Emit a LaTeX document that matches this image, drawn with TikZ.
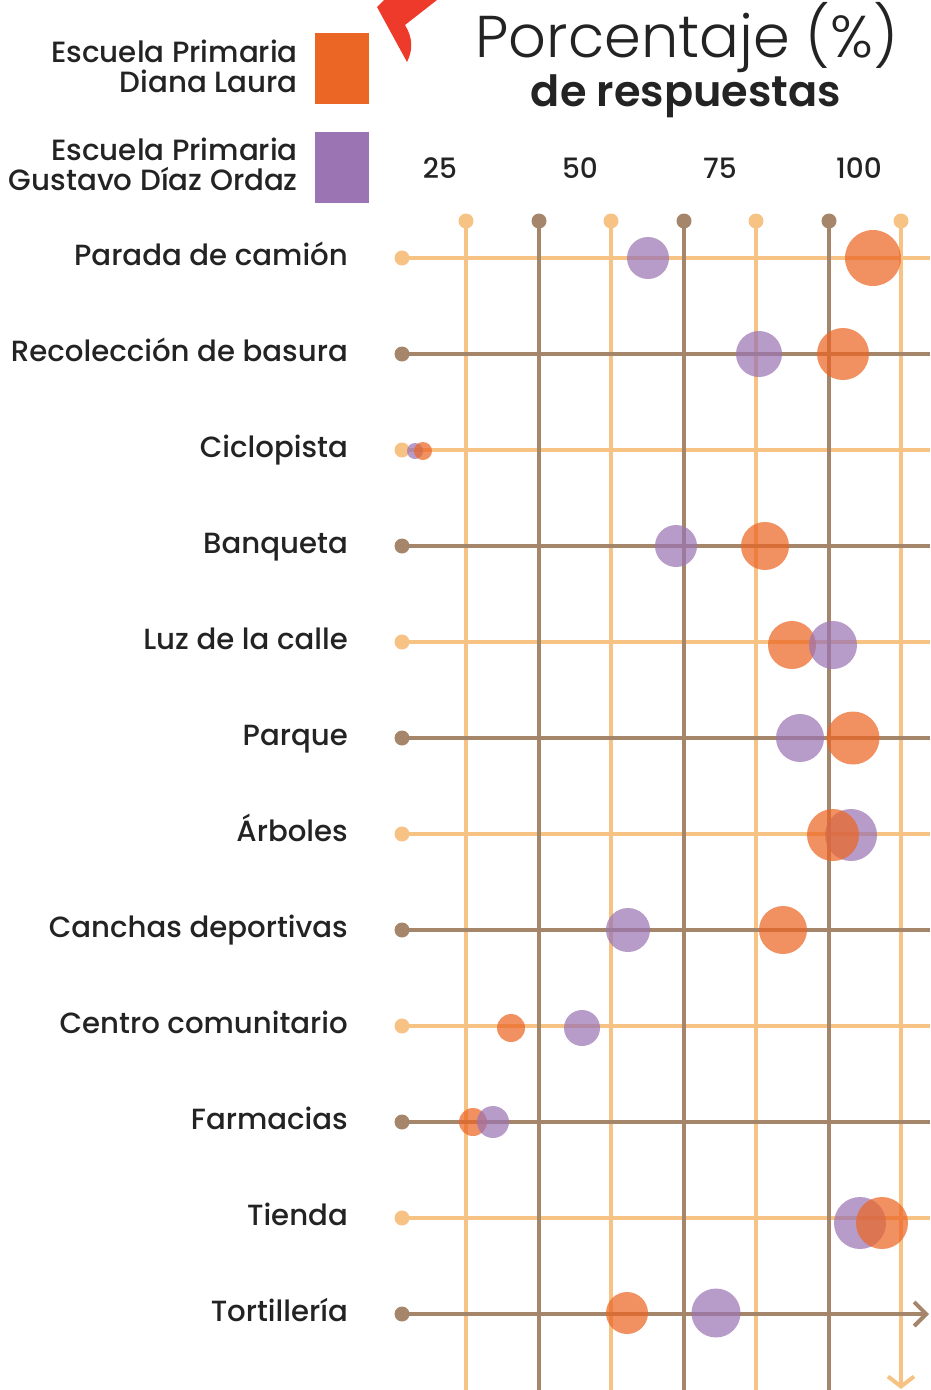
\documentclass[tikz,border=0pt]{standalone}
\usepackage{fontspec}
\setmainfont{Poppins}
\newfontfamily\medfont{Poppins Medium}
\newfontfamily\lightfont{Poppins Light}
\newfontfamily\semifont{Poppins SemiBold}
\usetikzlibrary{arrows.meta}
\definecolor{lightl}{HTML}{F6C384}
\definecolor{brownl}{HTML}{A5866B}
\definecolor{orangeS}{HTML}{EB6624}
\definecolor{purpleS}{HTML}{9B74B3}
\definecolor{redS}{HTML}{EE3A2B}
\definecolor{ink}{HTML}{232323}
\begin{document}
\begin{tikzpicture}[x=1pt,y=-1pt,
  gridline/.style={line width=4pt},
  bubO/.style={circle, fill=orangeS, fill opacity=0.72, inner sep=0pt, minimum size=#1},
  bubP/.style={circle, fill=purpleS, fill opacity=0.72, inner sep=0pt, minimum size=#1},
  rowlab/.style={anchor=base east, text=ink, inner sep=0pt, font=\medfont\fontsize{29.2}{31}\selectfont},
  legtext/.style={anchor=base east, text=ink, inner sep=0pt, font=\medfont\fontsize{29.3}{31}\selectfont},
  ticklab/.style={anchor=base, text=ink, inner sep=0pt, font=\medfont\fontsize{28}{29}\selectfont},
  legbox/.style={inner sep=0pt, minimum width=54pt, minimum height=71pt}]
\useasboundingbox (0,0) rectangle (930,1390);
% red shape
\fill[redS] (377,7) -- (384,0) -- (437,0) -- (405,25) .. controls (413,38) and (413,50) .. (407,62) -- cycle;
% legend
\node[legbox, fill=orangeS] (sqO) at (342,68.5) {};
\node[legbox, fill=purpleS] (sqP) at (342,167.5) {};
\node[legtext] (lgA1) at (298,62) {Escuela Primaria};
\node[legtext] (lgA2) at (298,92) {Diana Laura};
\node[legtext] (lgB1) at (298,160) {Escuela Primaria};
\node[legtext] (lgB2) at (298,190) {Gustavo Díaz Ordaz};
% title
\node[anchor=base, text=ink, inner sep=0pt, font=\lightfont\fontsize{59}{61}\selectfont] (t1) at (687,57) {Porcentaje (\%)};
\node[anchor=base, text=ink, inner sep=0pt, font=\semifont\fontsize{43}{45}\selectfont] (t2) at (686,106) {de respuestas};
% ticks
\node[ticklab] (k25) at (440,178) {25};
\node[ticklab] (k50) at (580,178) {50};
\node[ticklab] (k75) at (720,178) {75};
\node[ticklab] (k100) at (859,178) {100};
% light verticals
\foreach \x [count=\j] in {466,611,756} {
  \coordinate (lt\j) at (\x,221); \coordinate (lb\j) at (\x,1390);
  \draw[gridline,lightl] (lt\j) -- (lb\j);
  \fill[lightl] (lt\j) circle (7.5pt);
}
\coordinate (lt4) at (901,221); \coordinate (lb4) at (901,1389);
\draw[gridline,lightl,-{Straight Barb[length=10pt,width=26pt]}] (lt4) -- (lb4);
\fill[lightl] (lt4) circle (7.5pt);
% light horizontals
\foreach \y [count=\j] in {258,450,642,834,1026,1218} {
  \coordinate (ls\j) at (402,\y); \coordinate (le\j) at (930,\y);
  \draw[gridline,lightl] (ls\j) -- (le\j);
  \fill[lightl] (ls\j) circle (7.5pt);
}
% brown verticals
\foreach \x [count=\j] in {539,684,829} {
  \coordinate (bt\j) at (\x,221); \coordinate (bb\j) at (\x,1390);
  \draw[gridline,brownl] (bt\j) -- (bb\j);
  \fill[brownl] (bt\j) circle (7.5pt);
}
% brown horizontals
\foreach \y [count=\j] in {354,546,738,930,1122} {
  \coordinate (bs\j) at (402,\y); \coordinate (be\j) at (930,\y);
  \draw[gridline,brownl] (bs\j) -- (be\j);
  \fill[brownl] (bs\j) circle (7.5pt);
}
\coordinate (bs6) at (402,1314); \coordinate (be6) at (929,1314);
\draw[gridline,brownl,-{Straight Barb[length=12pt,width=24pt]}] (bs6) -- (be6);
\fill[brownl] (bs6) circle (7.5pt);
% row labels
\foreach \y/\lab [count=\j] in {258/Parada de camión,354/Recolección de basura,450/Ciclopista,546/Banqueta,642/Luz de la calle,738/Parque,834/Árboles,930/Canchas deportivas,1026/Centro comunitario,1122/Farmacias,1218/Tienda,1314/Tortillería} {
  \node[rowlab] (r\j) at (348,\y+7) {\lab};
}
% bubbles
\node[bubP=42pt] (p1) at (648,258) {};
\node[bubO=56pt] (o1) at (873,258) {};
\node[bubP=46pt] (p2) at (759,354) {};
\node[bubO=52pt] (o2) at (843,354) {};
\node[bubP=16pt] (p3) at (415,451) {};
\node[bubO=18pt] (o3) at (423,451) {};
\node[bubP=42pt] (p4) at (676,546) {};
\node[bubO=48pt] (o4) at (765,546) {};
\node[bubO=48pt] (o5) at (792,645) {};
\node[bubP=48pt] (p5) at (833,645) {};
\node[bubP=48pt] (p6) at (800,738) {};
\node[bubO=53pt] (o6) at (853,738) {};
\node[bubP=52pt] (p7) at (851,835) {};
\node[bubO=52pt] (o7) at (833,835) {};
\node[bubP=44pt] (p8) at (628,930) {};
\node[bubO=48pt] (o8) at (783,930) {};
\node[bubO=28pt] (o9) at (511,1028) {};
\node[bubP=36pt] (p9) at (582,1028) {};
\node[bubO=28pt] (o10) at (473,1122) {};
\node[bubP=32pt] (p10) at (493,1122) {};
\node[bubP=52pt] (p11) at (860,1223) {};
\node[bubO=52pt] (o11) at (882,1223) {};
\node[bubO=42pt] (o12) at (627,1313) {};
\node[bubP=49pt] (p12) at (716,1313) {};
\end{tikzpicture}
\end{document}
